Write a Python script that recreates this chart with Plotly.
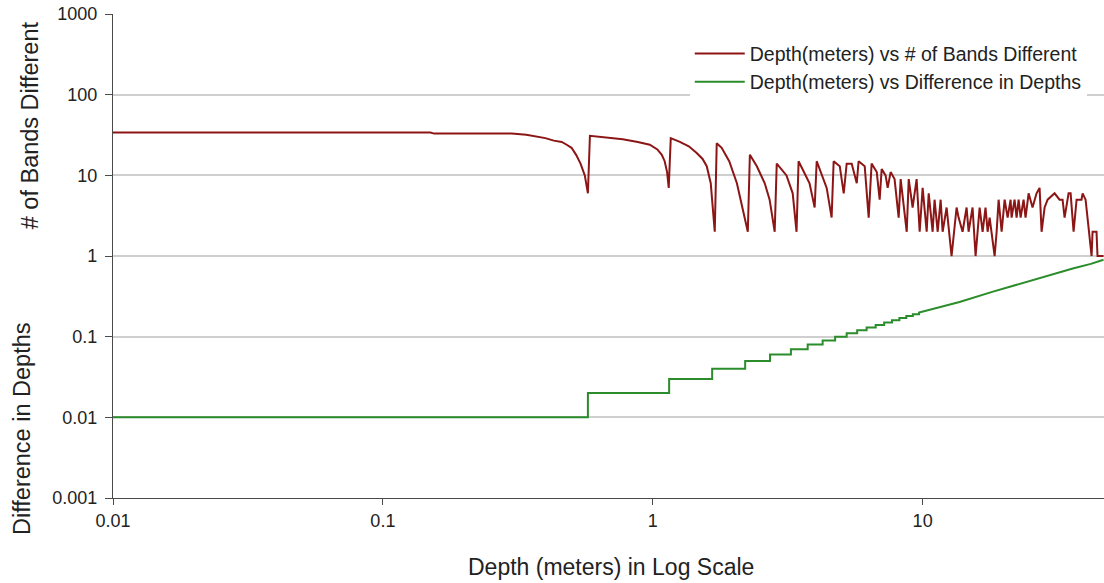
import plotly.graph_objects as go

# ---------------- data ----------------
band_depth = [0.01, 0.15, 0.155, 0.30, 0.34, 0.36, 0.40, 0.43, 0.46, 0.48, 0.50, 0.52, 0.54, 0.56, 0.575,
              0.585, 0.70, 0.774, 0.88, 0.975, 1.04, 1.08, 1.107, 1.13, 1.146,
              1.166, 1.26, 1.36, 1.455, 1.53, 1.585, 1.64, 1.697,
              1.726, 1.80, 1.92, 2.05, 2.15, 2.25,
              2.29, 2.43, 2.60, 2.71, 2.83,
              2.88, 3.13, 3.30, 3.41,
              3.47, 3.81, 3.98,
              4.05, 4.41, 4.60,
              4.68, 4.93, 5.10, 5.23, 5.46, 5.70, 5.79, 6.10, 6.31, 6.47, 6.76, 6.93, 7.05, 7.29, 7.42,
              7.61, 7.87, 8.15, 8.29, 8.73, 8.88, 9.18, 9.50, 9.75,
              10.0, 10.35, 10.53, 10.89, 11.07, 11.37, 11.66, 11.86, 12.27, 12.80, 13.36, 13.59, 14.06,
              14.55, 14.80, 15.31, 15.71, 16.26, 16.68, 17.10, 17.41, 17.71, 18.48, 18.80, 19.12, 19.62,
              20.13, 20.65, 21.18, 21.36, 21.91, 22.29, 22.68, 23.07, 23.66, 24.06, 24.70, 25.54, 26.43,
              27.12, 27.59, 28.31, 29.04, 30.83, 32.16, 33.0, 33.57, 34.74, 35.34, 36.25, 37.19, 38.78,
              39.15, 40.16, 40.85, 42.27, 42.62, 44.08, 44.46, 46.8]
bands = [34, 34, 33, 33, 32, 31, 29, 27, 26, 24, 22, 18, 14, 10, 6,
         31, 29, 28, 26, 24, 21, 18, 15, 11, 7,
         29, 26, 23, 19, 16, 13, 8, 2,
         25, 22, 15, 8, 4, 2,
         18, 13, 8, 5, 2,
         14, 10, 6, 2,
         15, 8, 4,
         15, 7, 3,
         15, 13, 6, 14, 14, 8, 15, 13, 3, 14, 11, 5, 12, 10, 7,
         11, 9, 3, 9, 2, 9, 4, 9, 2,
         7, 2, 6, 2, 5, 2, 5, 2, 4, 1, 4, 3, 2,
         4, 2, 4, 1, 4, 2, 4, 2, 3, 1, 2, 5, 2,
         5, 3, 5, 3, 5, 3, 5, 3, 5, 3, 6, 4, 6,
         7, 2, 4, 5, 6, 5, 5, 3, 6, 6, 2, 5, 5,
         6, 5, 3, 1, 2, 2, 1, 1]

diff_depth = [0.01, 0.575, 0.575, 1.15, 1.15, 1.66, 1.66, 2.20, 2.20, 2.72, 2.72, 3.25, 3.25,
              3.75, 3.75, 4.26, 4.26, 4.74, 4.74, 5.23, 5.23, 5.72, 5.72, 6.2, 6.2, 6.7, 6.7,
              7.2, 7.2, 7.7, 7.7, 8.2, 8.2, 8.7, 8.7, 9.2, 9.2, 9.7, 9.7,
              13.7, 18.1, 24.3, 30.0, 36.0, 42.0, 46.8]
diff_vals = [0.01, 0.01, 0.02, 0.02, 0.03, 0.03, 0.04, 0.04, 0.05, 0.05, 0.06, 0.06, 0.07,
             0.07, 0.08, 0.08, 0.09, 0.09, 0.10, 0.10, 0.11, 0.11, 0.12, 0.12, 0.13, 0.13, 0.14,
             0.14, 0.15, 0.15, 0.16, 0.16, 0.17, 0.17, 0.18, 0.18, 0.19, 0.19, 0.20,
             0.27, 0.36, 0.48, 0.59, 0.70, 0.80, 0.90]

x_ticks = [0.01, 0.1, 1, 10]
x_tick_text = ["0.01", "0.1", "1", "10"]
y_ticks = [0.001, 0.01, 0.1, 1, 10, 100, 1000]
y_tick_text = ["0.001", "0.01", "0.1", "1", "10", "100", "1000"]

name_bands = "Depth(meters) vs # of Bands Different"
name_diff = "Depth(meters) vs Difference in Depths"

FONT = "Arial, Liberation Sans, sans-serif"
TXT = "#222222"

fig = go.Figure()
fig.add_trace(go.Scatter(x=band_depth, y=bands, mode="lines", name=name_bands,
                         line=dict(color="#8c1515", width=2)))
fig.add_trace(go.Scatter(x=diff_depth, y=diff_vals, mode="lines", name=name_diff,
                         line=dict(color="#2a8c2a", width=2)))

fig.update_layout(
    width=1104, height=583,
    margin=dict(l=113, r=0, t=14, b=85, autoexpand=False),
    paper_bgcolor="white", plot_bgcolor="white",
    font=dict(family=FONT, size=18, color=TXT),
    showlegend=True,
    legend=dict(x=0.582, y=0.958, xanchor="left", yanchor="top",
                bgcolor="white", borderwidth=0, font=dict(size=19.5, color=TXT),
                itemwidth=50, tracegroupgap=0),
    xaxis=dict(type="log", range=[-2, 1.672], tickvals=x_ticks, ticktext=x_tick_text,
               showgrid=False, zeroline=False, showline=True, linecolor="#4a4a4a", linewidth=1.3,
               ticks="outside", ticklen=6, tickcolor="#4a4a4a", tickfont=dict(size=18, color=TXT),
               automargin=False),
    yaxis=dict(type="log", range=[-3, 3.0015], tickvals=y_ticks, ticktext=y_tick_text,
               showgrid=True, gridcolor="#cfcfcf", gridwidth=1.5, zeroline=False,
               showline=True, linecolor="#4a4a4a", linewidth=1.3,
               ticks="outside", ticklen=7, tickcolor="#4a4a4a", tickfont=dict(size=18, color=TXT),
               ticklabelstandoff=4, ticklabeloverflow="allow", automargin=False),
    annotations=[
        dict(text="Depth (meters) in Log Scale", xref="paper", yref="paper",
             x=0.503, y=-0.1426, xanchor="center", yanchor="middle", showarrow=False,
             font=dict(size=23, color=TXT)),
        dict(text="# of Bands Different", xref="paper", yref="paper",
             x=-0.0838, y=0.77, xanchor="center", yanchor="middle", showarrow=False,
             textangle=-90, font=dict(size=23.5, color=TXT)),
        dict(text="Difference in Depths", xref="paper", yref="paper",
             x=-0.0918, y=0.1426, xanchor="center", yanchor="middle", showarrow=False,
             textangle=-90, font=dict(size=23.5, color=TXT)),
    ],
)

fig.write_html("out.html", config={"displayModeBar": False},
               post_script="document.body.style.margin='0';")
